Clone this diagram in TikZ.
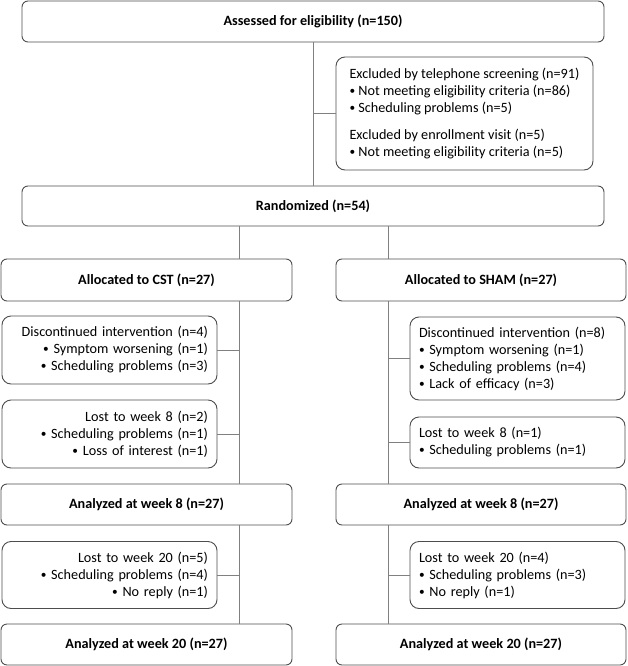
\documentclass[tikz,border=0pt]{standalone}
\usepackage{fontspec}
\setmainfont{Carlito}
\definecolor{boxline}{HTML}{4D4D4D}
\definecolor{linkline}{HTML}{808080}
\newcommand{\dotitem}{\raisebox{0.15ex}{\scalebox{0.8}{•}}\ }

\begin{document}
\begin{tikzpicture}[x=1pt, y=-1pt,
    headbox/.style={draw=boxline, line width=0.9pt, rounded corners=6pt, inner sep=0pt,
      font=\fontsize{14.2}{17}\selectfont\bfseries},
    listbox/.style={draw=boxline, line width=0.9pt, rounded corners=9pt, inner xsep=9pt, inner ysep=0pt,
      font=\fontsize{14.2}{17}\selectfont},
    link/.style={draw=linkline, line width=0.8pt}]
    \useasboundingbox (0,0) rectangle (628,666);

    % enrolment
    \node[headbox, minimum width=582pt, minimum height=41pt] (assess) at (313,21.5) {Assessed for eligibility (n=150)};
    \node[listbox, minimum width=257pt, minimum height=113pt, align=left] (excl) at (464.5,113.5)
      {Excluded by telephone screening (n=91)\\
       \dotitem Not meeting eligibility criteria (n=86)\\
       \dotitem Scheduling problems (n=5)\\[10pt]
       Excluded by enrollment visit (n=5)\\
       \dotitem Not meeting eligibility criteria (n=5)};
    \node[headbox, minimum width=582pt, minimum height=40pt] (rand) at (313,206) {Randomized (n=54)};

    % CST arm
    \node[headbox, minimum width=291pt, minimum height=42pt] (allocCST) at (146.5,280) {Allocated to CST (n=27)};
    \node[listbox, minimum width=215pt, minimum height=68pt, text width=197pt, align=right] (discCST) at (109.5,350)
      {Discontinued intervention (n=4)\\
       \dotitem Symptom worsening (n=1)\\
       \dotitem Scheduling problems (n=3)};
    \node[listbox, minimum width=215pt, minimum height=68pt, text width=197pt, align=right] (lost8CST) at (109.5,434)
      {Lost to week 8 (n=2)\\
       \dotitem Scheduling problems (n=1)\\
       \dotitem Loss of interest (n=1)};
    \node[headbox, minimum width=291pt, minimum height=41pt] (ana8CST) at (146.5,504.5) {Analyzed at week 8 (n=27)};
    \node[listbox, minimum width=215pt, minimum height=67pt, text width=197pt, align=right] (lost20CST) at (109.5,575)
      {Lost to week 20 (n=5)\\
       \dotitem Scheduling problems (n=4)\\
       \dotitem No reply (n=1)};
    \node[headbox, minimum width=291pt, minimum height=41pt] (ana20CST) at (146.5,644.5) {Analyzed at week 20 (n=27)};

    % SHAM arm
    \node[headbox, minimum width=290pt, minimum height=42pt] (allocSHAM) at (481,280) {Allocated to SHAM (n=27)};
    \node[listbox, minimum width=215pt, minimum height=83pt, text width=197pt, align=left] (discSHAM) at (517.5,358.5)
      {Discontinued intervention (n=8)\\
       \dotitem Symptom worsening (n=1)\\
       \dotitem Scheduling problems (n=4)\\
       \dotitem Lack of efficacy (n=3)};
    \node[listbox, minimum width=215pt, minimum height=51pt, text width=197pt, align=left] (lost8SHAM) at (517.5,442.5)
      {Lost to week 8 (n=1)\\
       \dotitem Scheduling problems (n=1)};
    \node[headbox, minimum width=290pt, minimum height=41pt] (ana8SHAM) at (481,504.5) {Analyzed at week 8 (n=27)};
    \node[listbox, minimum width=215pt, minimum height=67pt, text width=197pt, align=left] (lost20SHAM) at (517.5,575)
      {Lost to week 20 (n=4)\\
       \dotitem Scheduling problems (n=3)\\
       \dotitem No reply (n=1)};
    \node[headbox, minimum width=290pt, minimum height=41pt] (ana20SHAM) at (481,644.5) {Analyzed at week 20 (n=27)};

    % vertical lines
    \coordinate (cstLine) at (239,0);
    \coordinate (shamLine) at (388,0);
    \draw[link] (assess) -- (rand);
    \draw[link] (rand.south -| cstLine) -- (allocCST.north -| cstLine);
    \draw[link] (allocCST.south -| cstLine) -- (ana8CST.north -| cstLine);
    \draw[link] (ana8CST.south -| cstLine) -- (ana20CST.north -| cstLine);
    \draw[link] (rand.south -| shamLine) -- (allocSHAM.north -| shamLine);
    \draw[link] (allocSHAM.south -| shamLine) -- (ana8SHAM.north -| shamLine);
    \draw[link] (ana8SHAM.south -| shamLine) -- (ana20SHAM.north -| shamLine);

    % side branches
    \draw[link] (excl.west) -- (excl.west -| assess.south);
    \draw[link] (discCST.east) -- (discCST.east -| cstLine);
    \draw[link] (lost8CST.east) -- (lost8CST.east -| cstLine);
    \draw[link] (lost20CST.east) -- (lost20CST.east -| cstLine);
    \draw[link] (discSHAM.west) -- (discSHAM.west -| shamLine);
    \draw[link] (lost8SHAM.west) -- (lost8SHAM.west -| shamLine);
    \draw[link] (lost20SHAM.west) -- (lost20SHAM.west -| shamLine);
\end{tikzpicture}
\end{document}
